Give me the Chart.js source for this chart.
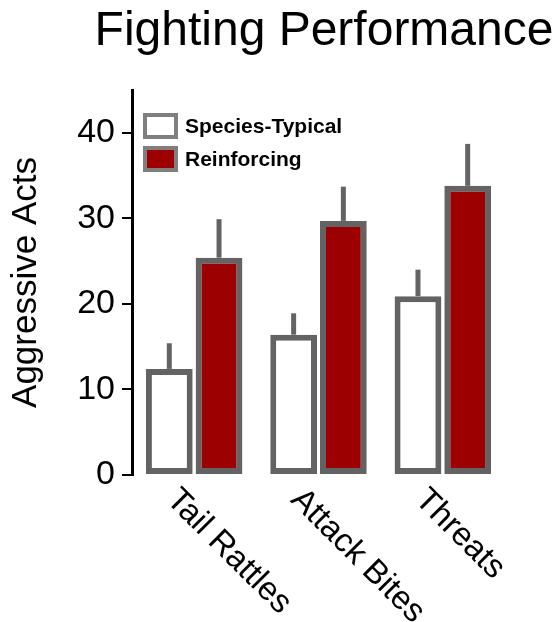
<!DOCTYPE html>
<html>
<head>
<meta charset="utf-8">
<title>Fighting Performance</title>
<script src="https://cdn.jsdelivr.net/npm/chart.js@4.4.0/dist/chart.umd.min.js"></script>
<style>
  body { margin: 0; background: #fff; }
</style>
</head>
<body>
<canvas id="myChart" width="557" height="622"></canvas>
<script>
// values (bar top and upper error bar)
var chartTitle = 'Fighting Performance';
var yTitle = 'Aggressive Acts';
var categories = ['Tail Rattles', 'Attack Bites', 'Threats'];
var seriesNames = ['Species-Typical', 'Reinforcing'];
var speciesTypical = [12.4, 16.4, 20.9];
var speciesTypicalErr = [3.0, 2.5, 3.1];
var reinforcing = [25.4, 29.7, 33.8];
var reinforcingErr = [4.5, 4.0, 4.9];
var yTicks = [0, 10, 20, 30, 40];

var FONT = '"Liberation Sans", Arial, Helvetica, sans-serif';
var GREY = '#636363';

// upper half of the error bar only, no caps
var errorBars = {
	id: 'errorBars',
	afterDatasetsDraw: function(chart) {
		var ctx = chart.ctx;
		var y = chart.scales.y;
		ctx.save();
		ctx.strokeStyle = GREY;
		ctx.lineWidth = 5;
		chart.data.datasets.forEach(function(ds, i) {
			chart.getDatasetMeta(i).data.forEach(function(bar, j) {
				ctx.beginPath();
				ctx.moveTo(bar.x, bar.y);
				ctx.lineTo(bar.x, y.getPixelForValue(ds.data[j] + ds.errors[j]));
				ctx.stroke();
			});
		});
		ctx.restore();
	}
};

// legend sits inside the plot, top left
var boxLegend = {
	id: 'boxLegend',
	afterDraw: function(chart) {
		var ctx = chart.ctx;
		ctx.save();
		ctx.font = 'bold 21px ' + FONT;
		ctx.textBaseline = 'middle';
		chart.data.datasets.forEach(function(ds, i) {
			var top = 115 + i * 33;
			ctx.fillStyle = ds.backgroundColor;
			ctx.fillRect(145, top, 31, 22);
			ctx.strokeStyle = '#7f7f7f';
			ctx.lineWidth = 4;
			ctx.strokeRect(145, top, 31, 22);
			ctx.fillStyle = '#000';
			ctx.fillText(ds.label, 185, top + 12);
		});
		ctx.restore();
	}
};

// x labels turned 45 degrees clockwise, reading downwards
var slantLabels = {
	id: 'slantLabels',
	afterDraw: function(chart) {
		var ctx = chart.ctx;
		var x = chart.scales.x;
		ctx.save();
		ctx.font = '33px ' + FONT;
		ctx.fillStyle = '#000';
		ctx.textAlign = 'left';
		ctx.textBaseline = 'alphabetic';
		chart.data.labels.forEach(function(label, i) {
			ctx.save();
			ctx.translate(x.getPixelForValue(i) - 12, chart.chartArea.bottom + 9);
			ctx.rotate(Math.PI / 4);
			ctx.fillText(label, 0, 24);
			ctx.restore();
		});
		ctx.restore();
	}
};

var bigTitle = {
	id: 'bigTitle',
	afterDraw: function(chart) {
		var ctx = chart.ctx;
		ctx.save();
		ctx.font = '48px ' + FONT;
		ctx.fillStyle = '#000';
		ctx.textAlign = 'center';
		ctx.textBaseline = 'alphabetic';
		ctx.fillText(chartTitle, 324, 45);
		ctx.restore();
	}
};

var ctx = document.getElementById('myChart').getContext('2d');
var myChart = new Chart(ctx, {
	type: 'bar',
	data: {
		labels: categories,
		datasets: [{
			label: seriesNames[0],
			data: speciesTypical,
			errors: speciesTypicalErr,
			backgroundColor: '#ffffff',
			borderColor: GREY,
			borderWidth: 6,
			borderSkipped: false
		},
		{
			label: seriesNames[1],
			data: reinforcing,
			errors: reinforcingErr,
			backgroundColor: '#9c0000',
			borderColor: GREY,
			borderWidth: 6,
			borderSkipped: false
		}]
	},
	options: {
		responsive: false,
		animation: false,
		barPercentage: 0.94,
		categoryPercentage: 0.8,
		layout: { padding: { top: 90, right: 52, left: 0, bottom: 0 } },
		plugins: {
			legend: { display: false },
			title: { display: false },
			tooltip: { enabled: false }
		},
		scales: {
			x: {
				grid: { display: false },
				border: { display: false },
				ticks: { display: false },
				afterFit: function(s) { s.height = 147; }
			},
			y: {
				min: 0,
				max: 45,
				afterBuildTicks: function(s) {
					s.ticks = yTicks.map(function(v) { return { value: v }; });
				},
				afterFit: function(s) { s.width = 132; },
				border: { display: true, color: '#000', width: 3 },
				grid: { drawOnChartArea: false, drawTicks: true, tickLength: 10, color: '#000', lineWidth: 2 },
				ticks: { color: '#000', font: { family: FONT, size: 34 }, padding: 7 },
				title: {
					display: true,
					text: yTitle,
					color: '#000',
					font: { family: FONT, size: 35 },
					padding: { top: 5, bottom: 0 }
				}
			}
		}
	},
	plugins: [errorBars, boxLegend, slantLabels, bigTitle]
});
</script>
</body>
</html>
